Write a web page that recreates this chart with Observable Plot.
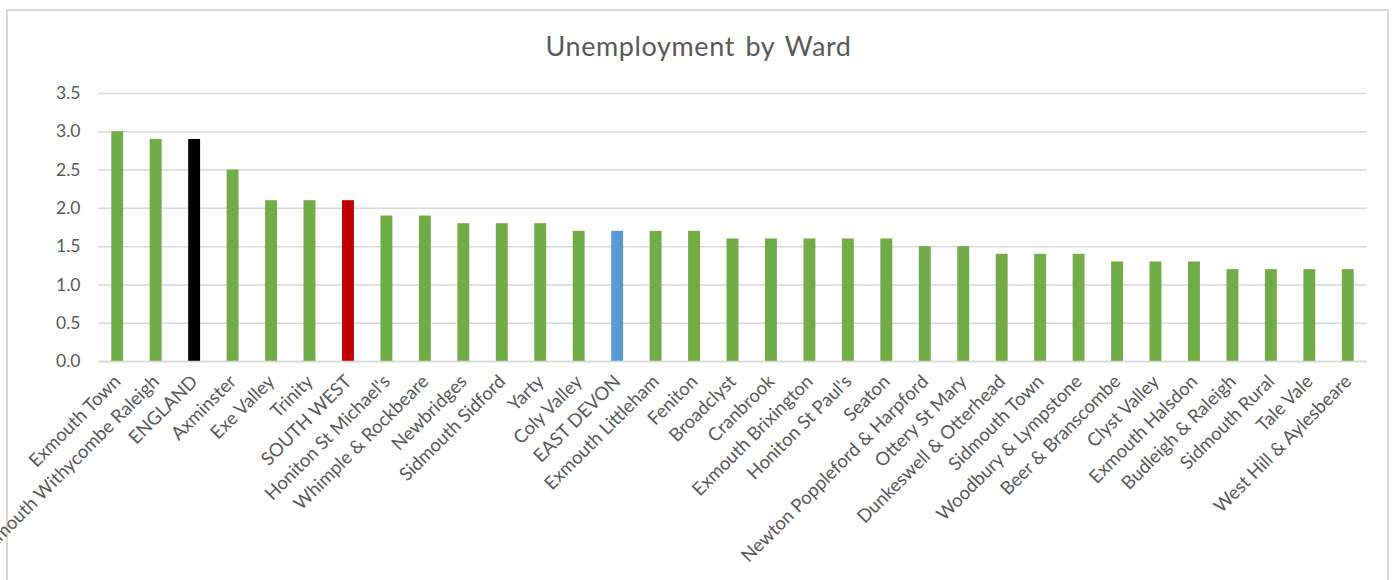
<!DOCTYPE html>
<html>
<head>
<meta charset="utf-8">
<script src="https://cdn.jsdelivr.net/npm/d3@7"></script>
<script src="https://cdn.jsdelivr.net/npm/@observablehq/plot@0.6"></script>
<style>
  html, body { margin: 0; padding: 0; background: #fff; overflow: hidden; }
  #wrap { position: relative; width: 1397px; height: 580px; }
  #frame { position: absolute; left: 6px; top: 9px; width: 1383px; height: 600px; border: 2px solid #D9D9D9; box-sizing: border-box; }
  #title { position: absolute; left: 0; width: 1397px; top: 29px; text-align: center; font-family: Lato, sans-serif; font-size: 27px; color: #595959; letter-spacing: 0.6px; word-spacing: 3px; }
  #chart { position: absolute; left: 0; top: 0; }
</style>
</head>
<body>
<div id="wrap">
  <div id="frame"></div>
  <div id="chart"></div>
  <div id="title">Unemployment by Ward</div>
</div>
<script>
const wards = [
  "Exmouth Town", "Exmouth Withycombe Raleigh", "ENGLAND", "Axminster", "Exe Valley", "Trinity",
  "SOUTH WEST", "Honiton St Michael's", "Whimple & Rockbeare", "Newbridges", "Sidmouth Sidford",
  "Yarty", "Coly Valley", "EAST DEVON", "Exmouth Littleham", "Feniton", "Broadclyst", "Cranbrook",
  "Exmouth Brixington", "Honiton St Paul's", "Seaton", "Newton Poppleford & Harpford",
  "Ottery St Mary", "Dunkeswell & Otterhead", "Sidmouth Town", "Woodbury & Lympstone",
  "Beer & Branscombe", "Clyst Valley", "Exmouth Halsdon", "Budleigh & Raleigh", "Sidmouth Rural",
  "Tale Vale", "West Hill & Aylesbeare"
];
const rates = [
  3.0, 2.9, 2.9, 2.5, 2.1, 2.1,
  2.1, 1.9, 1.9, 1.8, 1.8,
  1.8, 1.7, 1.7, 1.7, 1.7, 1.6, 1.6,
  1.6, 1.6, 1.6, 1.5,
  1.5, 1.4, 1.4, 1.4,
  1.3, 1.3, 1.3, 1.2, 1.2,
  1.2, 1.2
];
const highlight = { "ENGLAND": "#000000", "SOUTH WEST": "#C00000", "EAST DEVON": "#5B9BD5" };
const defaultColor = "#70AD47";
const yTicks = [0, 0.5, 1.0, 1.5, 2.0, 2.5, 3.0, 3.5];

const data = wards.map((w, i) => ({ ward: w, rate: rates[i], color: highlight[w] || defaultColor }));

const chart = Plot.plot({
  width: 1397,
  height: 580,
  marginLeft: 98,
  marginRight: 30,
  marginTop: 93,
  marginBottom: 219,
  style: { fontFamily: "Lato, sans-serif", color: "#595959", background: "transparent", overflow: "visible" },
  x: { domain: wards, paddingInner: 0.69, paddingOuter: 0.345, round: false, label: null },
  y: { domain: [0, 3.5], label: null },
  marks: [
    Plot.gridY(yTicks, { stroke: "#D9D9D9", strokeOpacity: 1, strokeWidth: 1.5 }),
    Plot.barY(data, { x: "ward", y: "rate", fill: "color" }),
    Plot.ruleY([0], { stroke: "#D9D9D9", strokeWidth: 1.5 }),
    Plot.axisY(yTicks, { tickSize: 0, tickPadding: 18, tickFormat: d => d.toFixed(1), fontSize: 17.5, fill: "#595959" }),
    Plot.axisX({ tickSize: 0, tickPadding: 17, tickRotate: -45, fontSize: 18.5, fill: "#595959" })
  ]
});
document.getElementById("chart").appendChild(chart);
</script>
</body>
</html>
